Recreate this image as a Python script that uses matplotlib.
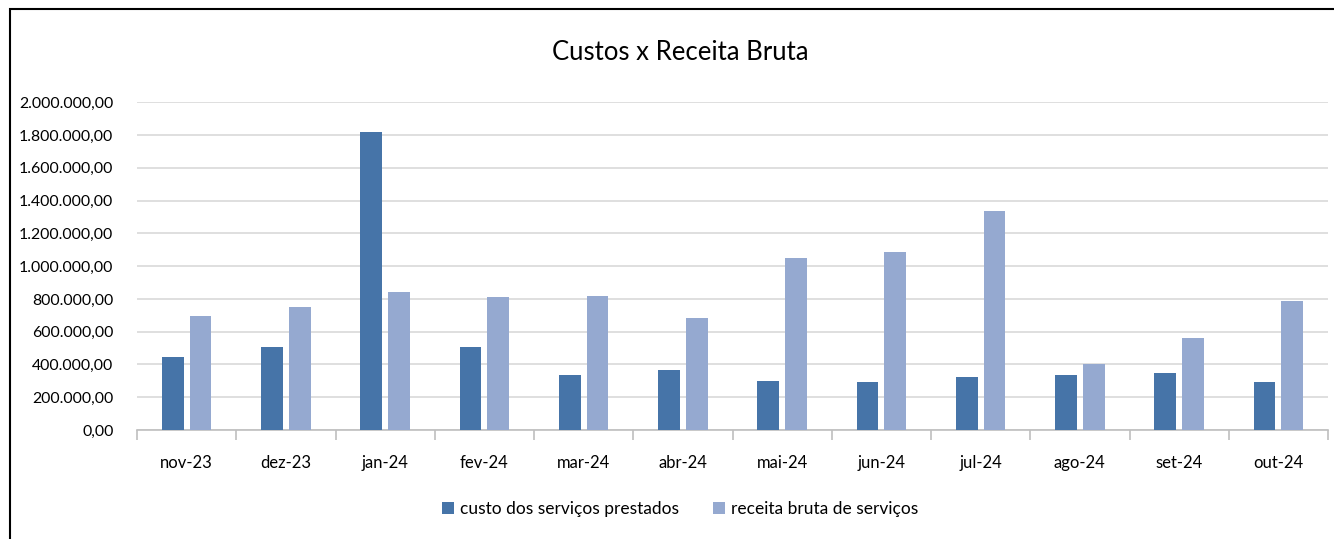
import numpy as np
import matplotlib
matplotlib.use("Agg")
import matplotlib.pyplot as plt
from matplotlib.patches import Rectangle
from matplotlib.ticker import FuncFormatter, FixedLocator

plt.rcParams["font.family"] = ["Lato", "DejaVu Sans"]

months = ["nov-23", "dez-23", "jan-24", "fev-24", "mar-24", "abr-24",
          "mai-24", "jun-24", "jul-24", "ago-24", "set-24", "out-24"]
custo = [447000, 505000, 1817000, 506000, 334000, 366000,
         301000, 295000, 323000, 336000, 346000, 291000]
receita = [698000, 749000, 840000, 812000, 818000, 684000,
           1052000, 1084000, 1337000, 403000, 561000, 787000]

COLOR_CUSTO = "#4674a8"
COLOR_RECEITA = "#95a9d0"


def br_format(v, _pos):
    s = f"{v:,.2f}"
    return s.replace(",", "X").replace(".", ",").replace("X", ".")


fig = plt.figure(figsize=(13.34, 5.39), dpi=100)
ax = fig.add_axes([137 / 1334, 1 - 430 / 539, (1328 - 137) / 1334, (430 - 102.3) / 539])

x = np.arange(len(months))
ax.bar(x - 0.14, custo, width=0.22, color=COLOR_CUSTO, label="custo dos serviços prestados", zorder=3)
ax.bar(x + 0.14, receita, width=0.22, color=COLOR_RECEITA, label="receita bruta de serviços", zorder=3)

ax.set_xlim(-0.5, len(months) - 0.5)
ax.set_ylim(0, 2000000)
ax.set_yticks(np.arange(0, 2000001, 200000))
ax.yaxis.set_major_formatter(FuncFormatter(br_format))
ax.grid(axis="y", color="#d9d9d9", lw=1.2, zorder=0)

ax.set_xticks(x)
ax.set_xticklabels(months)
ax.xaxis.set_minor_locator(FixedLocator(np.arange(-0.5, len(months), 1.0)))
ax.tick_params(axis="x", which="major", length=0, pad=18, labelsize=12)
ax.tick_params(axis="x", which="minor", length=7, color="#bfbfbf", width=1.2)
ax.tick_params(axis="y", length=0, pad=17, labelsize=11.4)

for side in ["top", "right", "left"]:
    ax.spines[side].set_visible(False)
ax.spines["bottom"].set_color("#bfbfbf")
ax.spines["bottom"].set_linewidth(1.2)

fig.text(680 / 1334, 1 - 52 / 539, "Custos x Receita Bruta", ha="center", va="center", fontsize=18.5)

fig.legend(loc="center", bbox_to_anchor=(680 / 1334, 1 - 509 / 539), ncol=2, frameon=False,
           fontsize=12.5, handlelength=0.7, handleheight=0.7, handletextpad=0.3,
           columnspacing=2.0)

fig.add_artist(Rectangle((10 / 1334, -0.1), 2, (539 - 9) / 539 + 0.1,
                         transform=fig.transFigure, fill=False, edgecolor="black", lw=1.5))

fig.savefig("out.png", dpi=100)
